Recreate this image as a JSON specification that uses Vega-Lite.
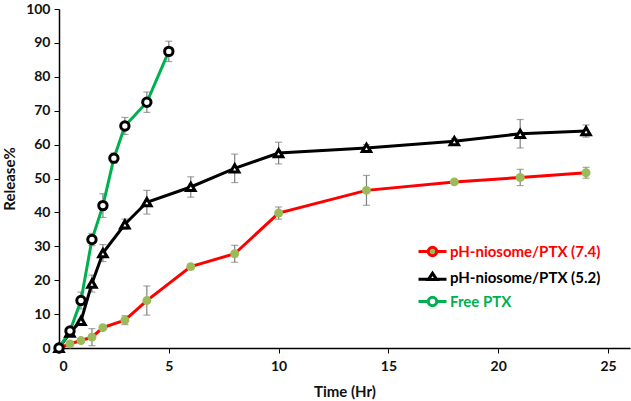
{
  "$schema": "https://vega.github.io/schema/vega-lite/v6.json",
  "width": 571,
  "height": 339,
  "autosize": {"type": "none"},
  "padding": {"left": 59, "top": 9, "right": 1, "bottom": 53},
  "background": "white",
  "config": {
    "view": {"stroke": null},
    "font": "Lato",
    "axis": {
      "labelFont": "Lato", "labelFontWeight": "bold", "labelFontSize": 14, "labelColor": "#111",
      "titleFont": "Lato", "titleFontWeight": "bold", "titleFontSize": 15, "titleColor": "#111",
      "domainColor": "black", "domainWidth": 1.5, "tickColor": "black", "tickSize": 5, "grid": false
    }
  },
  "data": {
    "values": [
      {"s": "pH-niosome/PTX (7.4)", "t": 0, "v": 0, "e": 0.3},
      {"s": "pH-niosome/PTX (7.4)", "t": 0.5, "v": 1.2, "e": 0.3},
      {"s": "pH-niosome/PTX (7.4)", "t": 1, "v": 2.2, "e": 0.3},
      {"s": "pH-niosome/PTX (7.4)", "t": 1.5, "v": 3.2, "e": 2.5},
      {"s": "pH-niosome/PTX (7.4)", "t": 2, "v": 6, "e": 0.3},
      {"s": "pH-niosome/PTX (7.4)", "t": 3, "v": 8.2, "e": 1.3},
      {"s": "pH-niosome/PTX (7.4)", "t": 4, "v": 14, "e": 4.3},
      {"s": "pH-niosome/PTX (7.4)", "t": 6, "v": 24, "e": 0.3},
      {"s": "pH-niosome/PTX (7.4)", "t": 8, "v": 27.8, "e": 2.5},
      {"s": "pH-niosome/PTX (7.4)", "t": 10, "v": 39.8, "e": 1.8},
      {"s": "pH-niosome/PTX (7.4)", "t": 14, "v": 46.5, "e": 4.4},
      {"s": "pH-niosome/PTX (7.4)", "t": 18, "v": 49, "e": 0.3},
      {"s": "pH-niosome/PTX (7.4)", "t": 21, "v": 50.3, "e": 2.4},
      {"s": "pH-niosome/PTX (7.4)", "t": 24, "v": 51.7, "e": 1.6},
      {"s": "pH-niosome/PTX (5.2)", "t": 0, "v": 0, "e": 0.3},
      {"s": "pH-niosome/PTX (5.2)", "t": 0.5, "v": 4.5, "e": 0.3},
      {"s": "pH-niosome/PTX (5.2)", "t": 1, "v": 8, "e": 0.5},
      {"s": "pH-niosome/PTX (5.2)", "t": 1.5, "v": 19, "e": 2.5},
      {"s": "pH-niosome/PTX (5.2)", "t": 2, "v": 28, "e": 2.5},
      {"s": "pH-niosome/PTX (5.2)", "t": 3, "v": 36.5, "e": 1.5},
      {"s": "pH-niosome/PTX (5.2)", "t": 4, "v": 43, "e": 3.5},
      {"s": "pH-niosome/PTX (5.2)", "t": 6, "v": 47.5, "e": 3},
      {"s": "pH-niosome/PTX (5.2)", "t": 8, "v": 53, "e": 4.2},
      {"s": "pH-niosome/PTX (5.2)", "t": 10, "v": 57.5, "e": 3.2},
      {"s": "pH-niosome/PTX (5.2)", "t": 14, "v": 59, "e": 1},
      {"s": "pH-niosome/PTX (5.2)", "t": 18, "v": 61, "e": 0.8},
      {"s": "pH-niosome/PTX (5.2)", "t": 21, "v": 63.2, "e": 4.2},
      {"s": "pH-niosome/PTX (5.2)", "t": 24, "v": 64, "e": 1.8},
      {"s": "Free PTX", "t": 0, "v": 0, "e": 0.3},
      {"s": "Free PTX", "t": 0.5, "v": 5, "e": 0.3},
      {"s": "Free PTX", "t": 1, "v": 14, "e": 2.5},
      {"s": "Free PTX", "t": 1.5, "v": 32, "e": 1.8},
      {"s": "Free PTX", "t": 2, "v": 42, "e": 3.5},
      {"s": "Free PTX", "t": 2.5, "v": 56, "e": 1.5},
      {"s": "Free PTX", "t": 3, "v": 65.5, "e": 2.5},
      {"s": "Free PTX", "t": 4, "v": 72.5, "e": 3},
      {"s": "Free PTX", "t": 5, "v": 87.5, "e": 3}
    ]
  },
  "encoding": {
    "x": {"field": "t", "type": "quantitative", "scale": {"domain": [0, 26], "nice": false},
      "axis": {"values": [0, 5, 10, 15, 20, 25], "title": "Time (Hr)", "titleY": 36, "labelPadding": 6}},
    "y": {"field": "v", "type": "quantitative", "scale": {"domain": [0, 100], "nice": false},
      "axis": {"values": [0, 10, 20, 30, 40, 50, 60, 70, 80, 90, 100], "title": "Release%", "titleX": -42, "labelPadding": 4}}
  },
  "layer": [
    {
      "mark": {"type": "errorbar", "ticks": {"size": 7, "color": "#7f7f7f"}, "color": "#7f7f7f", "thickness": 1.2},
      "encoding": {
        "y": {"field": "v", "type": "quantitative"},
        "yError": {"field": "e"},
        "x": {"field": "t", "type": "quantitative"},
        "detail": {"field": "s"}
      }
    },
    {
      "mark": {"type": "line", "strokeWidth": 3},
      "encoding": {
        "color": {
          "field": "s", "type": "nominal",
          "scale": {"domain": ["pH-niosome/PTX (7.4)", "pH-niosome/PTX (5.2)", "Free PTX"], "range": ["#ff0000", "#000000", "#00b050"]},
          "legend": {
            "orient": "none", "legendX": 358, "legendY": 227, "title": null,
            "labelFont": "Lato", "labelFontWeight": "bold", "labelFontSize": 15,
            "symbolSize": 784, "rowPadding": -1, "labelOffset": 2,
            "encode": {
              "symbols": {"update": {
                "shape": {"signal": "datum.value === 'pH-niosome/PTX (5.2)' ? 'M-1,0.12H-0.3M0.3,0.12H1M-0.3,0.15L0,-0.3L0.3,0.15Z' : 'M-1,0H-0.3M0.3,0H1M-0.3,0A0.3,0.3 0 1,0 0.3,0A0.3,0.3 0 1,0 -0.3,0Z'"},
                "fill": {"signal": "datum.value === 'pH-niosome/PTX (7.4)' ? '#9bbb59' : 'white'"},
                "stroke": {"signal": "datum.value === 'pH-niosome/PTX (7.4)' ? '#ff0000' : datum.value === 'Free PTX' ? '#00b050' : '#000000'"},
                "strokeWidth": {"value": 3}
              }},
              "labels": {"update": {
                "fill": {"signal": "datum.value === 'pH-niosome/PTX (7.4)' ? '#ff0000' : datum.value === 'Free PTX' ? '#00b050' : '#000000'"}
              }}
            }
          }
        }
      }
    },
    {
      "transform": [{"filter": "datum.s === 'pH-niosome/PTX (7.4)'"}],
      "mark": {"type": "point", "shape": "circle", "filled": true, "fill": "#9bbb59", "opacity": 1, "size": 80, "strokeWidth": 0}
    },
    {
      "transform": [{"filter": "datum.s === 'pH-niosome/PTX (5.2)'"}],
      "mark": {"type": "point", "shape": "triangle-up", "filled": false, "fill": "white", "fillOpacity": 1, "stroke": "black", "opacity": 1, "size": 70, "strokeWidth": 3}
    },
    {
      "transform": [{"filter": "datum.s === 'Free PTX'"}],
      "mark": {"type": "point", "shape": "circle", "filled": false, "fill": "white", "fillOpacity": 1, "stroke": "black", "opacity": 1, "size": 70, "strokeWidth": 3}
    }
  ]
}
